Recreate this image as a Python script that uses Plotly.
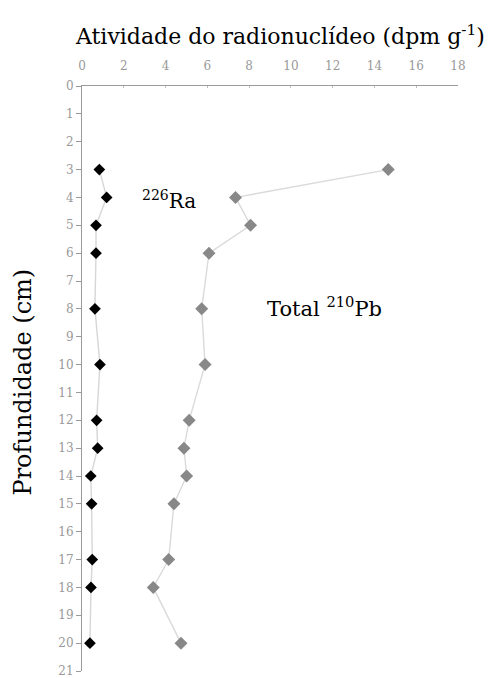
import plotly.graph_objects as go

depth = [3, 4, 5, 6, 8, 10, 12, 13, 14, 15, 17, 18, 20]
ra226 = [0.83, 1.18, 0.67, 0.67, 0.62, 0.86, 0.70, 0.75, 0.42, 0.46, 0.49, 0.43, 0.38]
pb210 = [14.66, 7.35, 8.07, 6.08, 5.73, 5.89, 5.13, 4.88, 5.01, 4.40, 4.15, 3.41, 4.74]
x_ticks = [0, 2, 4, 6, 8, 10, 12, 14, 16, 18]
y_ticks = list(range(0, 22))

serif = "DejaVu Serif, serif"

fig = go.Figure()
fig.add_trace(go.Scatter(
    x=pb210, y=depth, mode="lines+markers",
    line=dict(color="#dadada", width=1.4),
    marker=dict(symbol="diamond", size=10, color="#888888"),
    showlegend=False,
))
fig.add_trace(go.Scatter(
    x=ra226, y=depth, mode="lines+markers",
    line=dict(color="#d6d6d6", width=1.4),
    marker=dict(symbol="diamond", size=9, color="#000000"),
    showlegend=False,
))

fig.update_layout(
    width=498, height=678,
    margin=dict(l=82, r=40, t=86, b=7, autoexpand=False),
    paper_bgcolor="white", plot_bgcolor="white",
    xaxis=dict(
        side="top", range=[0, 18], tickvals=x_ticks, automargin=False,
        showgrid=False, zeroline=False, showline=True,
        linecolor="#9a9a9a", linewidth=1,
        ticks="inside", ticklen=2, tickcolor="#bbbbbb",
        ticklabelstandoff=10,
        tickfont=dict(family=serif, size=12, color="#999999"),
    ),
    yaxis=dict(
        range=[21, 0], tickvals=y_ticks, automargin=False,
        showgrid=False, zeroline=False, showline=True,
        linecolor="#9a9a9a", linewidth=1,
        ticks="outside", ticklen=5, tickcolor="#9a9a9a",
        ticklabeloverflow="allow",
        tickfont=dict(family=serif, size=12, color="#999999"),
    ),
    annotations=[
        dict(text="Atividade do radionuclídeo (dpm g<sup>-1</sup>)",
             xref="paper", yref="paper", x=0.527, y=1.0, yshift=51,
             showarrow=False, xanchor="center", yanchor="middle",
             font=dict(family=serif, size=22, color="black")),
        dict(text="Profundidade (cm)", textangle=-90,
             xref="paper", yref="paper", x=0, xshift=-60, y=0.5, yshift=-4,
             showarrow=False, xanchor="center", yanchor="middle",
             font=dict(family=serif, size=24, color="black")),
        dict(text="<sup>226</sup>Ra", xref="x", yref="y", x=2.78, y=4.1,
             showarrow=False, xanchor="left", yanchor="middle",
             font=dict(family=serif, size=20, color="black")),
        dict(text="Total <sup>210</sup>Pb", xref="x", yref="y", x=8.76, y=7.95,
             showarrow=False, xanchor="left", yanchor="middle",
             font=dict(family=serif, size=21, color="black")),
    ],
)

fig.write_html("out.html", config={"displayModeBar": False},
               post_script="document.body.style.margin='0';")
